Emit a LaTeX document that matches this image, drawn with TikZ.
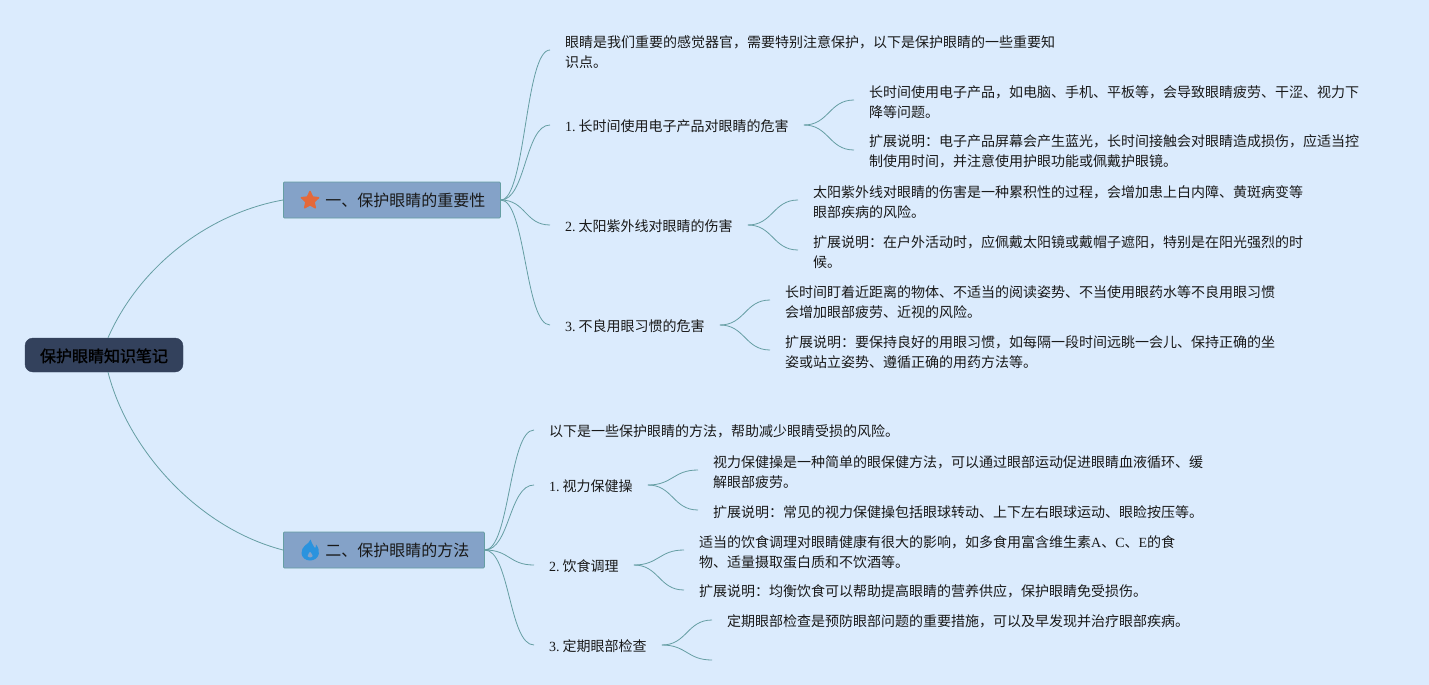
\documentclass[tikz,border=0pt]{standalone}
\usepackage{fontspec}
\setmainfont{Noto Sans CJK SC}
\newfontfamily\latf{Liberation Serif}
\newfontfamily\cjkbold[FakeBold=1.2]{Noto Sans CJK SC}
\newcommand{\la}[1]{{\latf #1}}
\newcommand{\nm}[1]{{\latf #1.}\hspace{3pt}}
\usetikzlibrary{shapes.geometric}
\definecolor{bgc}{HTML}{DBEBFD}
\definecolor{topicc}{HTML}{84A2C8}
\definecolor{linec}{HTML}{659EA3}
\definecolor{rootc}{HTML}{33415C}
\definecolor{starc}{HTML}{E4693A}
\definecolor{flamec}{HTML}{2A93DE}
\tikzset{
  x=1pt,y=-1pt,
  txt/.style={anchor=west,align=left,inner xsep=15pt,inner ysep=0pt,font=\fontsize{14}{20}\selectfont,text=black!90,yshift=-0.75pt},
  numline/.style={txt,text height=10.5pt,text depth=1.5pt},
  rootbox/.style={rectangle,rounded corners=8pt,fill=rootc,draw=rootc,minimum width=158pt,minimum height=34pt,inner sep=0pt,text height=14pt,text depth=0pt,font=\cjkbold\fontsize{16}{20}\selectfont,text=black},
  topicbox/.style={rectangle,rounded corners=1pt,fill=topicc,draw=linec,line width=0.8pt,minimum height=36pt,inner sep=0pt,text height=13pt,text depth=0pt,anchor=west,font=\fontsize{16}{20}\selectfont,text=black!90},
  link/.style={draw=linec,line width=0.8pt},
  iconstar/.style={star,star points=5,star point ratio=2.1,fill=starc,draw=starc,line join=round,line width=1.5pt,minimum size=18pt,inner sep=0pt},
}
\begin{document}
\begin{tikzpicture}
\useasboundingbox[fill=bgc] (0,0) rectangle (1429,685);
% root and topics
\node[rootbox] (root) at (104,355) {保护眼睛知识笔记};
\node[topicbox,minimum width=217pt] (t1) at (283,200) {\hspace*{27pt}一、保护眼睛的重要性};
\node[topicbox,minimum width=201pt] (t2) at (283,550) {\hspace*{27pt}二、保护眼睛的方法};
\node[iconstar] (ic1) at (310,200.5) {};
% flame icon
\fill[flamec,even odd rule] (310.5,539.5) .. controls (311.5,543) and (313,545) .. (314.5,547.5)
  .. controls (315,548.5) and (316,547.5) .. (316,544.5)
  .. controls (318.5,547.5) and (319.5,551) .. (318.8,554)
  .. controls (317.8,558) and (314.5,560.5) .. (310,560.5)
  .. controls (305.5,560.5) and (302,557.5) .. (301.5,553.5)
  .. controls (301.2,550) and (303,547.5) .. (305,545.5)
  .. controls (307.5,543.5) and (310,542) .. (310.5,539.5) -- cycle
  (310,551.5) .. controls (309.5,553) and (307.5,554) .. (307.5,556)
  .. controls (308,558) and (312.5,558) .. (312.8,556)
  .. controls (313,554.5) and (311,553) .. (310,551.5) -- cycle;
% level 2
\node[txt] (a0) at (550,51) {眼睛是我们重要的感觉器官，需要特别注意保护，以下是保护眼睛的一些重要知\\识点。};
\node[numline] (a1) at (550,126) {\nm{1}长时间使用电子产品对眼睛的危害};
\node[numline] (a2) at (550,226) {\nm{2}太阳紫外线对眼睛的伤害};
\node[numline] (a3) at (550,326) {\nm{3}不良用眼习惯的危害};
\node[txt] (a11) at (854,101) {长时间使用电子产品，如电脑、手机、平板等，会导致眼睛疲劳、干涩、视力下\\降等问题。};
\node[txt] (a12) at (854,151) {扩展说明：电子产品屏幕会产生蓝光，长时间接触会对眼睛造成损伤，应适当控\\制使用时间，并注意使用护眼功能或佩戴护眼镜。};
\node[txt] (a21) at (798,201) {太阳紫外线对眼睛的伤害是一种累积性的过程，会增加患上白内障、黄斑病变等\\眼部疾病的风险。};
\node[txt] (a22) at (798,251) {扩展说明：在户外活动时，应佩戴太阳镜或戴帽子遮阳，特别是在阳光强烈的时\\候。};
\node[txt] (a31) at (770,301) {长时间盯着近距离的物体、不适当的阅读姿势、不当使用眼药水等不良用眼习惯\\会增加眼部疲劳、近视的风险。};
\node[txt] (a32) at (770,351) {扩展说明：要保持良好的用眼习惯，如每隔一段时间远眺一会儿、保持正确的坐\\姿或站立姿势、遵循正确的用药方法等。};
\node[txt] (b0) at (534,431) {以下是一些保护眼睛的方法，帮助减少眼睛受损的风险。};
\node[numline] (b1) at (534,486) {\nm{1}视力保健操};
\node[numline] (b2) at (534,566) {\nm{2}饮食调理};
\node[numline] (b3) at (534,646) {\nm{3}定期眼部检查};
\node[txt] (b11) at (698,471) {视力保健操是一种简单的眼保健方法，可以通过眼部运动促进眼睛血液循环、缓\\解眼部疲劳。};
\node[txt] (b12) at (698,511) {扩展说明：常见的视力保健操包括眼球转动、上下左右眼球运动、眼睑按压等。};
\node[txt] (b21) at (684,551) {适当的饮食调理对眼睛健康有很大的影响，如多食用富含维生素\la{A}、\la{C}、\la{E}的食\\物、适量摄取蛋白质和不饮酒等。};
\node[txt] (b22) at (684,591) {扩展说明：均衡饮食可以帮助提高眼睛的营养供应，保护眼睛免受损伤。};
\node[txt] (b31) at (712,621) {定期眼部检查是预防眼部问题的重要措施，可以及早发现并治疗眼部疾病。};
\coordinate (b32) at (712,660);
% connectors
\draw[link] ([xshift=4pt]root.north) .. controls (140,265) and (210,213) .. (t1.west);
\draw[link] ([xshift=4pt]root.south) .. controls (128,450) and (198,528) .. (t2.west);
\foreach \t/\c in {t1/a0,t1/a1,t1/a2,t1/a3,t2/b0,t2/b1,t2/b2,t2/b3}{
  \draw[link] (\t.east) .. controls +(25,0) and ([xshift=-25pt,yshift=1.75pt]\c.west) .. ([yshift=1.75pt]\c.west);
}
\foreach \t/\c in {a1/a11,a1/a12,a2/a21,a2/a22,a3/a31,a3/a32,b1/b11,b1/b12,b2/b21,b2/b22}{
  \draw[link] ([yshift=1.75pt]\t.east) .. controls ([xshift=25pt,yshift=1.75pt]\t.east) and ([xshift=-25pt,yshift=1.75pt]\c.west) .. ([yshift=1.75pt]\c.west);
}
\draw[link] ([yshift=1.75pt]b3.east) .. controls ([xshift=25pt,yshift=1.75pt]b3.east) and ([xshift=-25pt,yshift=1.75pt]b31.west) .. ([yshift=1.75pt]b31.west);
\draw[link] ([yshift=1.75pt]b3.east) .. controls ([xshift=25pt,yshift=1.75pt]b3.east) and ([xshift=-25pt]b32) .. (b32);
\end{tikzpicture}
\end{document}
